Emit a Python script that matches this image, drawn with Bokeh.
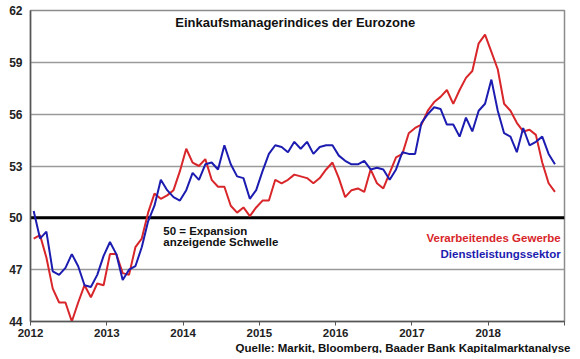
from bokeh.plotting import figure
from bokeh.models import Range1d, FixedTicker, Span, Label, ColumnDataSource, Title
from bokeh.embed import file_html
from bokeh.resources import INLINE

start_year = 2012
manufacturing = [
    48.8, 49.0, 47.7, 45.9, 45.1, 45.1, 44.0, 45.1, 46.1, 45.4, 46.2, 46.1,
    47.9, 47.9, 46.8, 46.7, 48.3, 48.8, 50.3, 51.4, 51.1, 51.3, 51.6, 52.7,
    54.0, 53.2, 53.0, 53.4, 52.2, 51.8, 51.8, 50.7, 50.3, 50.6, 50.1, 50.6,
    51.0, 51.0, 52.2, 52.0, 52.2, 52.5, 52.4, 52.3, 52.0, 52.3, 52.8, 53.2,
    52.3, 51.2, 51.6, 51.7, 51.5, 52.8, 52.0, 51.7, 52.6, 53.5, 53.7, 54.9,
    55.2, 55.4, 56.2, 56.7, 57.0, 57.4, 56.6, 57.4, 58.1, 58.5, 60.1, 60.6,
    59.6, 58.6, 56.6, 56.2, 55.5, 55.0, 55.1, 54.8, 53.2, 52.0, 51.5,
]
services = [
    50.4, 48.8, 49.2, 46.9, 46.7, 47.1, 47.9, 47.2, 46.1, 46.0, 46.7, 47.8,
    48.6, 47.9, 46.4, 47.0, 47.2, 48.3, 49.8, 50.7, 52.2, 51.6, 51.2, 51.0,
    51.6, 52.6, 52.2, 53.1, 53.2, 52.8, 54.2, 53.1, 52.4, 52.3, 51.1, 51.6,
    52.7, 53.7, 54.2, 54.1, 53.8, 54.4, 54.0, 54.4, 53.7, 54.1, 54.2, 54.2,
    53.6, 53.3, 53.1, 53.1, 53.3, 52.8, 52.9, 52.8, 52.2, 52.8, 53.8, 53.7,
    53.7, 55.5, 56.0, 56.4, 56.3, 55.4, 55.4, 54.7, 55.8, 55.0, 56.2, 56.6,
    58.0, 56.2, 54.9, 54.7, 53.8, 55.2, 54.2, 54.4, 54.7, 53.7, 53.1,
]
year_ticks = [2012, 2013, 2014, 2015, 2016, 2017, 2018, 2019]
y_ticks = [44, 47, 50, 53, 56, 59, 62]

x = [start_year + (i + 0.5) / 12 for i in range(len(manufacturing))]
src = ColumnDataSource(dict(x=x, man=manufacturing, svc=services))

RED = "#d8262a"
BLUE = "#1c1cb0"
FONT = "Liberation Sans"

p = figure(width=572, height=353, output_backend="svg", toolbar_location=None,
           x_range=Range1d(2012, 2019), y_range=Range1d(44, 62),
           min_border_left=30, min_border_top=10, min_border_right=8, min_border_bottom=0)
p.background_fill_color = "white"
p.border_fill_color = "white"
p.outline_line_color = "#8c8c8c"
p.outline_line_width = 1.5

p.xgrid.visible = False
p.ygrid.ticker = FixedTicker(ticks=y_ticks)
p.ygrid.grid_line_color = "#9a9a9a"
p.ygrid.grid_line_width = 1.5

p.xaxis.ticker = FixedTicker(ticks=year_ticks)
p.xaxis.major_label_overrides = {2019: ""}
p.yaxis.ticker = FixedTicker(ticks=y_ticks)
for ax in (p.xaxis[0], p.yaxis[0]):
    ax.axis_line_color = "#555555"
    ax.axis_line_width = 1.5
    ax.major_tick_line_color = "#555555"
    ax.minor_tick_line_color = None
    ax.major_label_text_font = FONT
    ax.major_label_text_font_style = "bold"
    ax.major_label_text_color = "#222222"
p.xaxis.major_label_text_font_size = "11.5px"
p.yaxis.major_label_text_font_size = "12px"
p.xaxis.major_tick_in = 0
p.xaxis.major_tick_out = 4
p.xaxis.major_label_standoff = 3
p.yaxis.major_tick_in = 0
p.yaxis.major_tick_out = 0
p.yaxis.major_label_standoff = 8

p.add_layout(Span(location=50, dimension="width", line_color="black", line_width=3,
                  level="underlay"))

p.line("x", "man", source=src, line_color=RED, line_width=2)
p.line("x", "svc", source=src, line_color=BLUE, line_width=2)

def lab(xv, yv, text, color="#111111", align="left", size="11.5px"):
    p.add_layout(Label(x=xv, y=yv, text=text, text_color=color, text_align=align,
                       text_baseline="middle", text_font=FONT, text_font_style="bold",
                       text_font_size=size))

lab(2015.47, 61.31, "Einkaufsmanagerindices der Eurozone", align="center", size="13px")
lab(2013.74, 49.25, "50 = Expansion")
lab(2013.74, 48.58, "anzeigende Schwelle")
lab(2018.95, 48.83, "Verarbeitendes Gewerbe", color=RED, align="right")
lab(2018.95, 47.91, "Dienstleistungssektor", color=BLUE, align="right")

src_title = Title(text="Quelle: Markit, Bloomberg, Baader Bank Kapitalmarktanalyse",
                  align="right", text_font=FONT, text_font_style="bold",
                  text_font_size="11.5px", text_color="#111111", offset=-6,
                  standoff=0)
p.add_layout(src_title, "below")

open("out.html", "w").write(file_html(p, INLINE))
